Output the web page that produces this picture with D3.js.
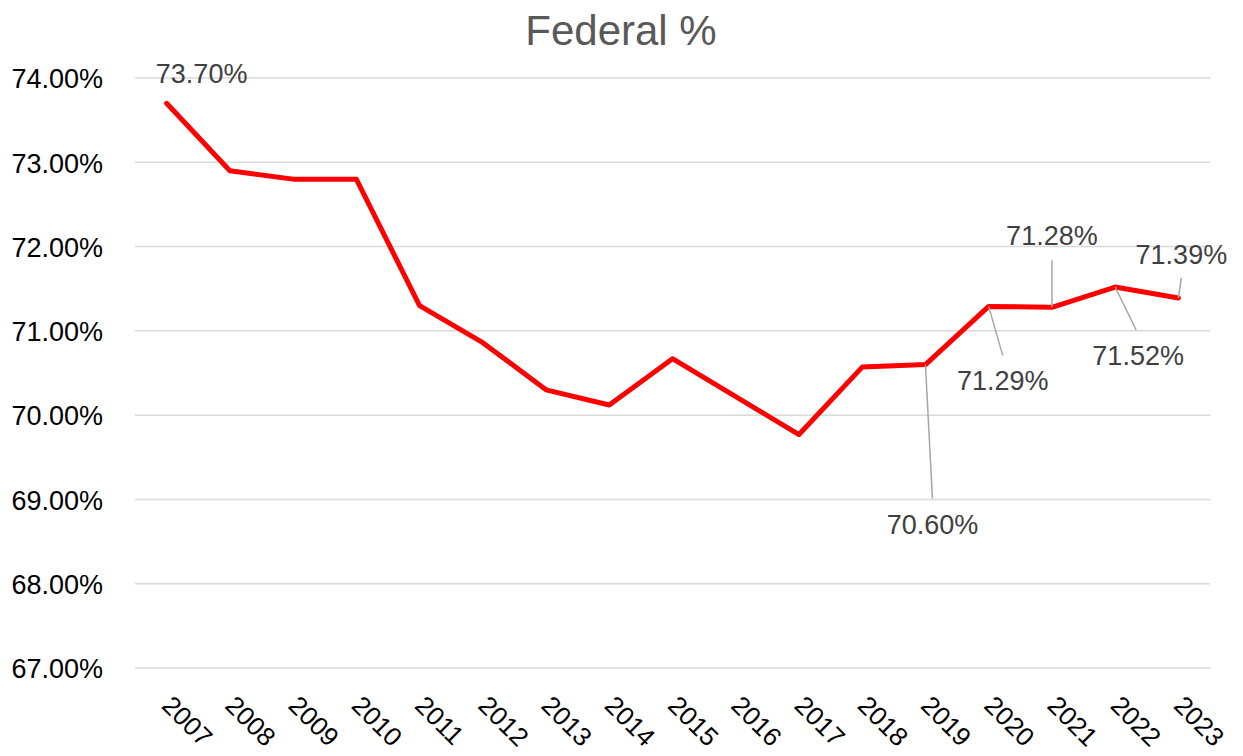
<!DOCTYPE html>
<html><head><meta charset="utf-8">
<script src="https://cdn.jsdelivr.net/npm/d3@7"></script>
<style>html,body{margin:0;padding:0;background:#fff;}svg{display:block;font-family:"Liberation Sans",Arial,sans-serif;}</style>
</head><body>
<svg id="c" width="1243" height="756"></svg>
<script>
const years = ["2007","2008","2009","2010","2011","2012","2013","2014","2015","2016","2017","2018","2019","2020","2021","2022","2023"];
const federalPct = [73.70,72.90,72.80,72.80,71.30,70.86,70.30,70.12,70.67,70.22,69.77,70.57,70.60,71.29,71.28,71.52,71.39];
const yTicks = [67,68,69,70,71,72,73,74];
const labeledYears = ["2007","2019","2020","2021","2022","2023"];
// label placement (pixel offsets from the point), kept separate from data
const labelPlacement = {
  "2007": {dx:35, dy:-20, leader:null},
  "2019": {dx:7, dy:169, leader:[7,134]},
  "2020": {dx:14, dy:84, leader:[14,49]},
  "2021": {dx:0, dy:-62, leader:[0,-47]},
  "2022": {dx:23, dy:78, leader:[21,43]},
  "2023": {dx:3, dy:-34, leader:[3,-20]}
};

const svg = d3.select("#c");
const mLeft = 135, mRight = 1210, mTop = 78, mBottom = 668;
const x = d3.scaleBand().domain(years).range([mLeft, mRight]);
const y = d3.scaleLinear().domain([67, 74]).range([mBottom, mTop]);
const cx = d => x(d) + x.bandwidth()/2;

// title
svg.append("text").attr("x", 621).attr("y", 45).attr("text-anchor","middle")
  .attr("font-size", 42).attr("fill", "#595959").text("Federal %");

// gridlines
svg.append("g").selectAll("line").data(yTicks).join("line")
  .attr("x1", mLeft).attr("x2", mRight)
  .attr("y1", d => y(d)).attr("y2", d => y(d))
  .attr("stroke", "#d9d9d9").attr("stroke-width", 1.5);

// y axis labels
const yAxis = d3.axisLeft(y).tickValues(yTicks).tickSize(0).tickPadding(0)
  .tickFormat(d => d.toFixed(2) + "%");
const gy = svg.append("g").attr("transform", `translate(${103},0)`).call(yAxis);
gy.select(".domain").remove();
gy.selectAll("text").attr("font-size", 27).attr("fill", "#000")
  .attr("font-family", '"Liberation Sans",Arial,sans-serif').attr("dy", "0.36em");

// x axis labels
const xAxis = d3.axisBottom(x).tickSize(0).tickPadding(0);
const gx = svg.append("g").call(xAxis);
gx.select(".domain").remove();
gx.selectAll(".tick").attr("transform", d => `translate(${cx(d) - 6},707)`);
gx.selectAll("text").attr("y", 0).attr("dy", 0).attr("x", 0)
  .attr("text-anchor", "start").attr("transform", "rotate(45)")
  .attr("font-size", 26).attr("fill", "#000")
  .attr("font-family", '"Liberation Sans",Arial,sans-serif');

// line
const line = d3.line().x((d, i) => cx(years[i])).y(d => y(d));
svg.append("path").datum(federalPct).attr("d", line)
  .attr("fill", "none").attr("stroke", "#ff0000").attr("stroke-width", 5)
  .attr("stroke-linejoin", "round").attr("stroke-linecap", "round");

// data labels with leader lines
const lab = labeledYears.map(yr => {
  const i = years.indexOf(yr);
  return {yr, v: federalPct[i], px: cx(yr), py: y(federalPct[i]), p: labelPlacement[yr]};
});
svg.append("g").selectAll("line").data(lab.filter(d => d.p.leader)).join("line")
  .attr("x1", d => d.px).attr("y1", d => d.py)
  .attr("x2", d => d.px + d.p.leader[0]).attr("y2", d => d.py + d.p.leader[1])
  .attr("stroke", "#a6a6a6").attr("stroke-width", 1.5);
svg.append("g").selectAll("text").data(lab).join("text")
  .attr("x", d => d.px + d.p.dx).attr("y", d => d.py + d.p.dy)
  .attr("text-anchor", "middle").attr("font-size", 27).attr("fill", "#404040")
  .text(d => d.v.toFixed(2) + "%");
</script>
</body></html>
